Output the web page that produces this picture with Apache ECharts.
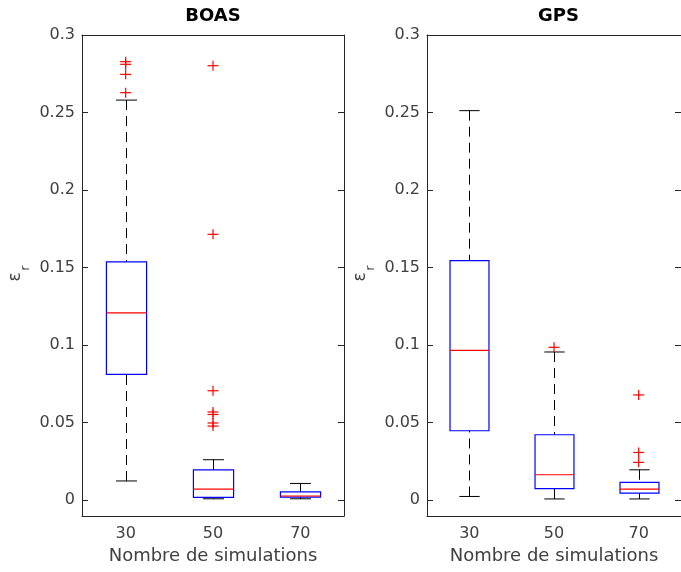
<!DOCTYPE html>
<html><head><meta charset="utf-8">
<script src="https://cdn.jsdelivr.net/npm/echarts@6/dist/echarts.min.js"></script>
<style>html,body{margin:0;padding:0;background:#fff}#c{width:681px;height:572px}</style>
</head><body><div id="c"></div><script>
const categories = ['30', '50', '70'];
const panelTitles = ['BOAS', 'GPS'];
const xAxisTitle = 'Nombre de simulations';
const yTickValues = [0, 0.05, 0.1, 0.15, 0.2, 0.25, 0.3];
const yTickLabels = ['0', '0.05', '0.1', '0.15', '0.2', '0.25', '0.3'];
const yMin = -0.0103, yMax = 0.3;
// [category index, lower whisker, Q1, median, Q3, upper whisker]
const boasStats = [
  [0, 0.0123, 0.0811, 0.1208, 0.1537, 0.2580],
  [1, 0.0008, 0.0017, 0.0071, 0.0195, 0.0260],
  [2, 0.0008, 0.0019, 0.0026, 0.0052, 0.0107]
];
const boasOutliers = [[0, 0.2828], [0, 0.2811], [0, 0.2746], [0, 0.2628],
  [1, 0.2802], [1, 0.1714], [1, 0.0705], [1, 0.0568], [1, 0.0552], [1, 0.0497], [1, 0.0477]];
const gpsStats = [
  [0, 0.0023, 0.0447, 0.0966, 0.1544, 0.2512],
  [1, 0.0007, 0.0073, 0.0163, 0.0421, 0.0955],
  [2, 0.0007, 0.0045, 0.0071, 0.0114, 0.0195]
];
const gpsOutliers = [[1, 0.0985], [2, 0.0678], [2, 0.0307], [2, 0.0243]];

const FONT = 'DejaVu Sans';
const AX = '#262626', TXT = '#404040';

function boxRender(params, api) {
  const x = api.value(0);
  const pLo = api.coord([x, api.value(1)]);
  const pQ1 = api.coord([x, api.value(2)]);
  const pMed = api.coord([x, api.value(3)]);
  const pQ3 = api.coord([x, api.value(4)]);
  const pHi = api.coord([x, api.value(5)]);
  const band = api.size([1, 0])[0];
  const bw = band * 0.46, cw = band * 0.24;
  const cx = Math.round(pQ1[0]) + 0.5;
  const blk = { stroke: '#000', lineWidth: 1, fill: null };
  const dashed = { stroke: '#000', lineWidth: 1, lineDash: [10, 6], fill: null };
  return {
    type: 'group',
    children: [
      { type: 'line', shape: { x1: cx, y1: pHi[1], x2: cx, y2: pQ3[1] }, style: dashed },
      { type: 'line', shape: { x1: cx, y1: pLo[1], x2: cx, y2: pQ1[1] }, style: dashed },
      { type: 'line', shape: { x1: cx - cw / 2, y1: pHi[1], x2: cx + cw / 2, y2: pHi[1] }, style: blk },
      { type: 'line', shape: { x1: cx - cw / 2, y1: pLo[1], x2: cx + cw / 2, y2: pLo[1] }, style: blk },
      { type: 'rect', shape: { x: cx - bw / 2, y: pQ3[1], width: bw, height: pQ1[1] - pQ3[1] },
        style: { stroke: '#0000ff', lineWidth: 1.2, fill: null } },
      { type: 'line', shape: { x1: cx - bw / 2, y1: pMed[1], x2: cx + bw / 2, y2: pMed[1] },
        style: { stroke: '#ff0000', lineWidth: 1.2 } }
    ]
  };
}
function crossRender(params, api) {
  const p = api.coord([api.value(0), api.value(1)]);
  const h = 5.5, v = 5;
  const st = { stroke: '#ff0000', lineWidth: 1.2 };
  return {
    type: 'group',
    children: [
      { type: 'line', shape: { x1: p[0] - h, y1: p[1], x2: p[0] + h, y2: p[1] }, style: st },
      { type: 'line', shape: { x1: p[0], y1: p[1] - v, x2: p[0], y2: p[1] + v }, style: st }
    ]
  };
}

const grids = [
  { left: 82, right: 337, top: 35, bottom: 56 },
  { left: 427, right: -9, top: 35, bottom: 56 }
];
const xAxes = [], yAxes = [], series = [], titles = [], graphics = [];
const stats = [boasStats, gpsStats], outs = [boasOutliers, gpsOutliers];
grids.forEach((g, i) => {
  const cxTitle = g.left + (681 - g.right - g.left) / 2;
  titles.push({ text: panelTitles[i], left: cxTitle, top: 7, textAlign: 'center', padding: 0,
    textStyle: { fontFamily: FONT, fontSize: 18, fontWeight: 'bold', color: '#000' } });
  xAxes.push({ type: 'category', gridIndex: i, data: categories, position: 'bottom', boundaryGap: true,
    axisLine: { onZero: false, lineStyle: { color: AX, width: 1 } },
    axisTick: { inside: true, alignWithLabel: true, length: 6, lineStyle: { color: AX } },
    axisLabel: { fontFamily: FONT, fontSize: 16, color: TXT, margin: 10 },
    name: xAxisTitle, nameLocation: 'middle', nameGap: 31,
    nameTextStyle: { fontFamily: FONT, fontSize: 18, color: TXT },
    splitLine: { show: false } });
  xAxes.push({ type: 'category', gridIndex: i, data: categories, position: 'top', boundaryGap: true,
    axisLine: { onZero: false, lineStyle: { color: AX, width: 1 } },
    axisTick: { inside: true, alignWithLabel: true, length: 6, lineStyle: { color: AX } },
    axisLabel: { show: false }, splitLine: { show: false } });
  yAxes.push({ type: 'value', gridIndex: i, position: 'left', min: yMin, max: yMax,
    axisLine: { show: true, onZero: false, lineStyle: { color: AX, width: 1 } },
    axisTick: { show: true, inside: true, length: 6, customValues: yTickValues, lineStyle: { color: AX } },
    axisLabel: { fontFamily: FONT, fontSize: 16, color: TXT, margin: 7, customValues: yTickValues,
      formatter: v => { const k = yTickValues.indexOf(v); return k >= 0 ? yTickLabels[k] : String(v); } },
    splitLine: { show: false } });
  yAxes.push({ type: 'value', gridIndex: i, position: 'right', min: yMin, max: yMax,
    axisLine: { show: true, onZero: false, lineStyle: { color: AX, width: 1 } },
    axisTick: { show: true, inside: true, length: 6, customValues: yTickValues, lineStyle: { color: AX } },
    axisLabel: { show: false }, splitLine: { show: false } });
  series.push({ type: 'custom', xAxisIndex: 2 * i, yAxisIndex: 2 * i, data: stats[i],
    encode: { x: 0, y: [1, 2, 3, 4, 5] }, renderItem: boxRender, silent: true, clip: false });
  series.push({ type: 'custom', xAxisIndex: 2 * i, yAxisIndex: 2 * i, data: outs[i],
    encode: { x: 0, y: 1 }, renderItem: crossRender, silent: true, clip: false });
  const lx = g.left - 66;
  graphics.push({ type: 'text', x: lx, y: 277, rotation: Math.PI / 2,
    style: { text: 'ε', fontFamily: FONT, fontSize: 17, fill: TXT, align: 'center', verticalAlign: 'middle' } });
  graphics.push({ type: 'text', x: lx + 10, y: 268, rotation: Math.PI / 2,
    style: { text: 'r', fontFamily: FONT, fontSize: 13, fill: TXT, align: 'center', verticalAlign: 'middle' } });
});

const chart = echarts.init(document.getElementById('c'), null, { renderer: 'canvas' });
chart.setOption({
  animation: false,
  backgroundColor: '#fff',
  title: titles,
  grid: grids,
  xAxis: xAxes,
  yAxis: yAxes,
  series: series,
  graphic: graphics
});
</script></body></html>
